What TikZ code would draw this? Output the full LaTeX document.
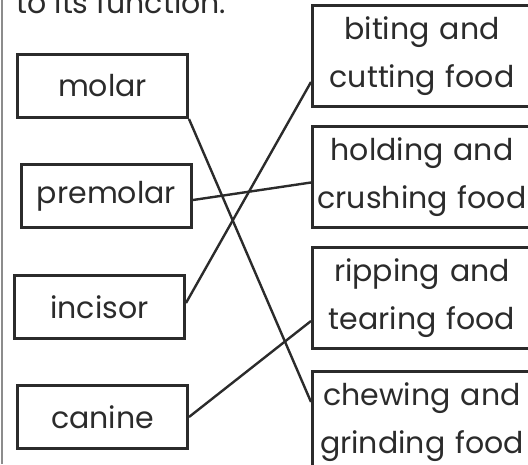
\documentclass[tikz,border=0pt]{standalone}
\usepackage{fontspec}
\setmainfont{Poppins}
\usepackage{tikz}
\usetikzlibrary{positioning}
\definecolor{ink}{HTML}{2B2B2B}
\definecolor{rule}{HTML}{8C8C8C}

\begin{document}
\begin{tikzpicture}[x=1pt,y=1pt,node distance=17pt]

    \useasboundingbox (0,0) rectangle (528,-464);

    \tikzstyle{tooth}=[rectangle,draw=ink,line width=3pt,minimum width=170pt,minimum height=63pt,text=ink,font=\fontsize{30}{36}\selectfont]
    \tikzstyle{job}=[rectangle,draw=ink,line width=3pt,minimum width=219pt,minimum height=101pt,text width=210pt,align=center,text=ink,font=\fontsize{30}{48}\selectfont]
    \tikzstyle{wire}=[draw=ink,line width=2.4pt]

    % page edge
    \draw [rule,line width=2pt] (1.5,0) -- (1.5,-464);
    \node [anchor=base west,text=ink,font=\fontsize{30}{36}\selectfont] (title) at (13,-13) {to its function.};

    \begin{scope}
        \node [tooth,anchor=north west] (molar) at (16,-53) {molar};
        \node [tooth,below=44pt of molar,xshift=4pt] (premolar) {premolar};
        \node [tooth,below=45pt of premolar,xshift=-7pt] (incisor) {incisor};
        \node [tooth,below=44pt of incisor,xshift=3pt] (canine) {canine};

        \node [job,anchor=north west] (biting) at (311,-4) {biting and\\cutting food};
        \node [job,below=17pt of biting] (holding) {holding and\\crushing food};
        \node [job,below=17pt of holding] (ripping) {ripping and\\tearing food};
        \node [job,below=20pt of ripping] (chewing) {chewing and\\grinding food};

        \draw [wire] (molar.south east) -- ([yshift=20pt]chewing.west);
        \draw [wire] ([yshift=-4pt]premolar.east) -- ([yshift=-5.5pt]holding.west);
        \draw [wire] ([yshift=4pt]incisor.east) -- ([yshift=-26pt]biting.west);
        \draw [wire] (canine.east) -- ([yshift=-23pt]ripping.west);
    \end{scope}
\end{tikzpicture}
\end{document}
